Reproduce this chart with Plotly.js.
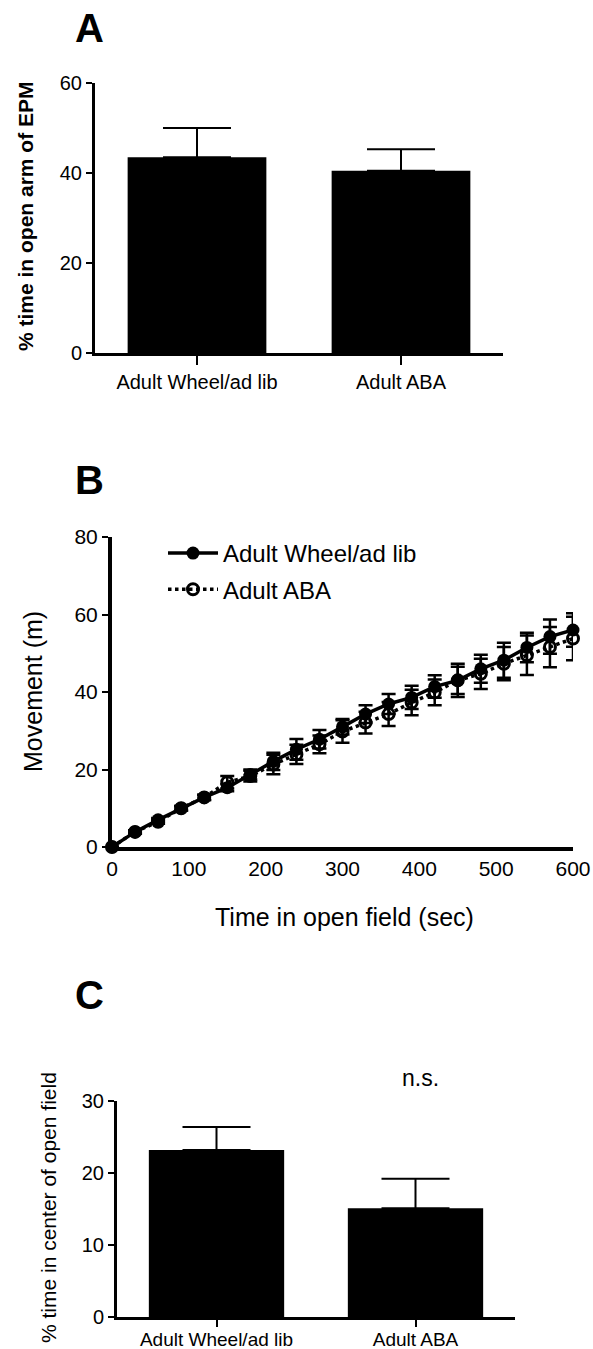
<!DOCTYPE html>
<html>
<head>
<meta charset="utf-8">
<script src="https://cdn.plot.ly/plotly-3.0.1.min.js"></script>
<style>html,body{margin:0;padding:0;background:#fff;}#chart{width:593px;height:1349px;}</style>
</head>
<body>
<div id="chart"></div>
<script>
// ---- Data ----
const groups = ["Adult Wheel/ad lib", "Adult ABA"];
const epmMean = [43.5, 40.5];
const epmErr = [6.5, 4.8];

const timeSec = [0, 30, 60, 90, 120, 150, 180, 210, 240, 270, 300, 330, 360, 390, 420, 450, 480, 510, 540, 570, 600];
const wheelMove = [0, 3.9, 7.0, 10.0, 12.8, 15.3, 18.7, 22.1, 25.2, 27.8, 31.0, 34.3, 36.9, 38.6, 41.4, 43.0, 46.0, 48.2, 51.5, 54.3, 56.0];
const wheelErr = [0, 0.4, 0.5, 0.6, 0.7, 0.9, 1.3, 2.2, 2.7, 2.4, 2.0, 2.3, 2.6, 3.0, 2.9, 4.3, 3.6, 4.5, 3.8, 4.4, 4.3];
const abaMove = [0, 3.9, 6.5, 10.0, 12.8, 16.7, 18.3, 21.3, 23.9, 26.5, 29.8, 32.1, 34.3, 37.3, 39.9, 43.0, 44.7, 47.3, 49.5, 51.6, 53.8];
const abaErr = [0, 0.4, 0.5, 0.6, 0.7, 1.6, 1.4, 2.5, 2.5, 2.3, 2.9, 2.8, 3.1, 3.3, 3.3, 3.5, 3.9, 4.3, 5.1, 5.2, 5.6];

const centerMean = [23.2, 15.1];
const centerErr = [3.2, 4.1];

// ---- Layout helpers ----
const W = 593, H = 1349;
const px = v => v / W;
const py = v => 1 - v / H;
const FONT = "Liberation Sans, Arial, Helvetica, sans-serif";

const traces = [
  {
    type: "bar", x: groups, y: epmMean, xaxis: "x", yaxis: "y",
    width: 0.68, marker: {color: "#000", line: {width: 0}},
    error_y: {type: "data", array: epmErr, arrayminus: [0, 0], symmetric: false, color: "#000", thickness: 2, width: 34},
    showlegend: false, hoverinfo: "none"
  },
  {
    type: "scatter", mode: "lines+markers", name: "Adult Wheel/ad lib", legendgroup: "g1",
    x: timeSec, y: wheelMove, xaxis: "x2", yaxis: "y2", cliponaxis: false,
    line: {color: "#000", width: 3.5},
    marker: {symbol: "circle", size: 13, color: "#000"},
    error_y: {type: "data", array: wheelErr, color: "#000", thickness: 2.5, width: 7},
    hoverinfo: "none"
  },
  {
    type: "scatter", mode: "lines+markers", name: "Adult ABA", legendgroup: "g2",
    x: timeSec, y: abaMove, xaxis: "x2", yaxis: "y2", cliponaxis: false,
    line: {color: "#000", width: 3.5, dash: "dot"},
    marker: {symbol: "circle-open", size: 11, color: "#000", line: {width: 3, color: "#000"}},
    error_y: {type: "data", array: abaErr, color: "#000", thickness: 2.5, width: 7},
    hoverinfo: "none"
  },
  {
    type: "bar", x: groups, y: centerMean, xaxis: "x3", yaxis: "y3",
    width: 0.68, marker: {color: "#000", line: {width: 0}},
    error_y: {type: "data", array: centerErr, arrayminus: [0, 0], symmetric: false, color: "#000", thickness: 2, width: 34},
    showlegend: false, hoverinfo: "none"
  }
];

const axBase = {
  showgrid: false, zeroline: false, showline: true, linecolor: "#000", linewidth: 3,
  ticks: "outside", tickcolor: "#000", tickwidth: 2, ticklen: 6,
  fixedrange: true
};

function ann(text, x, y, size, extra) {
  return Object.assign({
    text: text, x: px(x), y: py(y), xref: "paper", yref: "paper",
    xanchor: "center", yanchor: "middle", showarrow: false,
    font: {size: size, family: FONT, color: "#000"}
  }, extra || {});
}

const layout = {
  width: W, height: H,
  margin: {l: 0, r: 0, t: 0, b: 0},
  paper_bgcolor: "#fff", plot_bgcolor: "#fff",
  font: {family: FONT, color: "#000"},
  showlegend: true,
  legend: {
    x: px(163), y: py(531), xanchor: "left", yanchor: "top",
    font: {size: 24, family: FONT, color: "#000"},
    bgcolor: "rgba(0,0,0,0)", itemwidth: 50, tracegroupgap: 2
  },
  xaxis: Object.assign({}, axBase, {
    domain: [px(95), px(503)], anchor: "y", type: "category", range: [-0.5, 1.5],
    ticklen: 9, tickfont: {size: 20, family: FONT}
  }),
  yaxis: Object.assign({}, axBase, {
    domain: [1 - 353 / H, 1 - 83 / H], anchor: "x", range: [0, 60], tickvals: [0, 20, 40, 60],
    tickfont: {size: 20, family: FONT}
  }),
  xaxis2: Object.assign({}, axBase, {
    domain: [px(112), px(573)], anchor: "y2", range: [0, 600], tickvals: [0, 100, 200, 300, 400, 500, 600],
    tickfont: {size: 21, family: FONT}, ticks: "", linewidth: 4
  }),
  yaxis2: Object.assign({}, axBase, {
    domain: [1 - 847 / H, 1 - 537 / H], anchor: "x2", range: [0, 80], tickvals: [0, 20, 40, 60, 80],
    tickfont: {size: 21, family: FONT}, linewidth: 4
  }),
  xaxis3: Object.assign({}, axBase, {
    domain: [px(117), px(515)], anchor: "y3", type: "category", range: [-0.5, 1.5],
    ticklen: 7, ticklabelstandoff: -4, tickfont: {size: 19, family: FONT}
  }),
  yaxis3: Object.assign({}, axBase, {
    domain: [1 - 1317 / H, 1 - 1101 / H], anchor: "x3", range: [0, 30], tickvals: [0, 10, 20, 30],
    tickfont: {size: 20, family: FONT}
  }),
  annotations: [
    ann("<b>A</b>", 89, 28, 40),
    ann("<b>B</b>", 89, 480, 40),
    ann("<b>C</b>", 89, 995, 40),
    ann("n.s.", 420, 1078, 23),
    ann("<b>% time in open arm of EPM</b>", 25, 216, 21, {textangle: -90}),
    ann("Movement (m)", 33, 692, 25, {textangle: -90}),
    ann("Time in open field (sec)", 344, 917, 25),
    ann("% time in center of open field", 48, 1208, 21, {textangle: -90})
  ]
};

Plotly.newPlot("chart", traces, layout, {displayModeBar: false, staticPlot: true});
</script>
</body>
</html>
